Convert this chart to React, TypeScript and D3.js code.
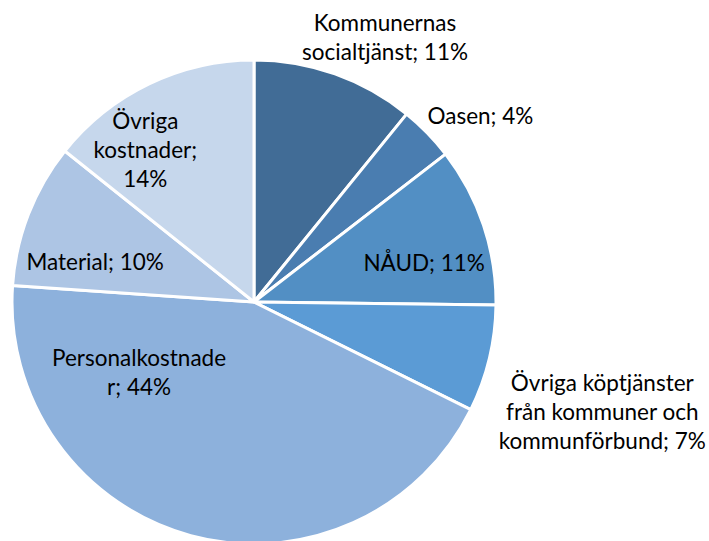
import React, { useEffect } from 'react';
import * as d3 from 'd3';

// shares in percent (labels show rounded values)
const categories = [
    'Kommunernas socialtjänst',
    'Oasen',
    'NÅUD',
    'Övriga köptjänster från kommuner och kommunförbund',
    'Personalkostnader',
    'Material',
    'Övriga kostnader',
];
const shares = [10.86, 3.68, 10.66, 7.14, 43.75, 9.64, 14.28];
const labelLines = [
    ['Kommunernas', 'socialtjänst; 11%'],
    ['Oasen; 4%'],
    ['NÅUD; 11%'],
    ['Övriga köptjänster', 'från kommuner och', 'kommunförbund; 7%'],
    ['Personalkostnade', 'r; 44%'],
    ['Material; 10%'],
    ['Övriga', 'kostnader;', '14%'],
];

const colors = ['#416c96', '#4a7db0', '#528fc4', '#5b9bd5', '#8db1dc', '#adc5e4', '#c6d7ec'];
// where each label sits: radius factor along the mid angle, then a nudge
const labelPlace = [
    { f: 1.1, dx: 42, dy: -14 },
    { f: 1.18, dx: 22, dy: 13 },
    { f: 0.75, dx: -2, dy: 19 },
    { f: 1.2, dx: 66, dy: 42 },
    { f: 0.6, dx: -77, dy: -70 },
    { f: 0.7, dx: -1, dy: 21 },
    { f: 0.75, dx: -30, dy: 12 },
];

const width = 709;
const height = 541;
const cx = 254;
const cy = 302;
const radius = 242;
const lineHeight = 29;

export default function App() {
    useEffect(() => {
        document.body.style.margin = '0';
    }, []);

    const data = categories.map((c, i) => ({ label: c, value: shares[i], i }));
    const pie = d3.pie<any>().sort(null).value(d => d.value);
    const arc = d3.arc<any>().innerRadius(0).outerRadius(radius);
    const arcs = pie(data);

    return (
        <svg width={width} height={height} style={{ display: 'block', background: '#fff' }}>
            <g transform={`translate(${cx},${cy})`}>
                {arcs.map(a => (
                    <path key={a.data.label} d={arc(a) || ''} fill={colors[a.data.i]}
                        stroke="#fff" strokeWidth={3} strokeLinejoin="round" />
                ))}
                {arcs.map(a => {
                    const p = labelPlace[a.data.i];
                    const mid = (a.startAngle + a.endAngle) / 2;
                    const x = Math.sin(mid) * radius * p.f + p.dx;
                    const y = -Math.cos(mid) * radius * p.f + p.dy;
                    const lines = labelLines[a.data.i];
                    const y0 = y - (lines.length - 1) * lineHeight / 2;
                    return (
                        <text key={'l' + a.data.label} textAnchor="middle" fontFamily="Lato, sans-serif"
                            fontSize={22.5} fill="#000">
                            {lines.map((t, j) => (
                                <tspan key={j} x={x} y={y0 + j * lineHeight} dy="0.35em">{t}</tspan>
                            ))}
                        </text>
                    );
                })}
            </g>
        </svg>
    );
}
